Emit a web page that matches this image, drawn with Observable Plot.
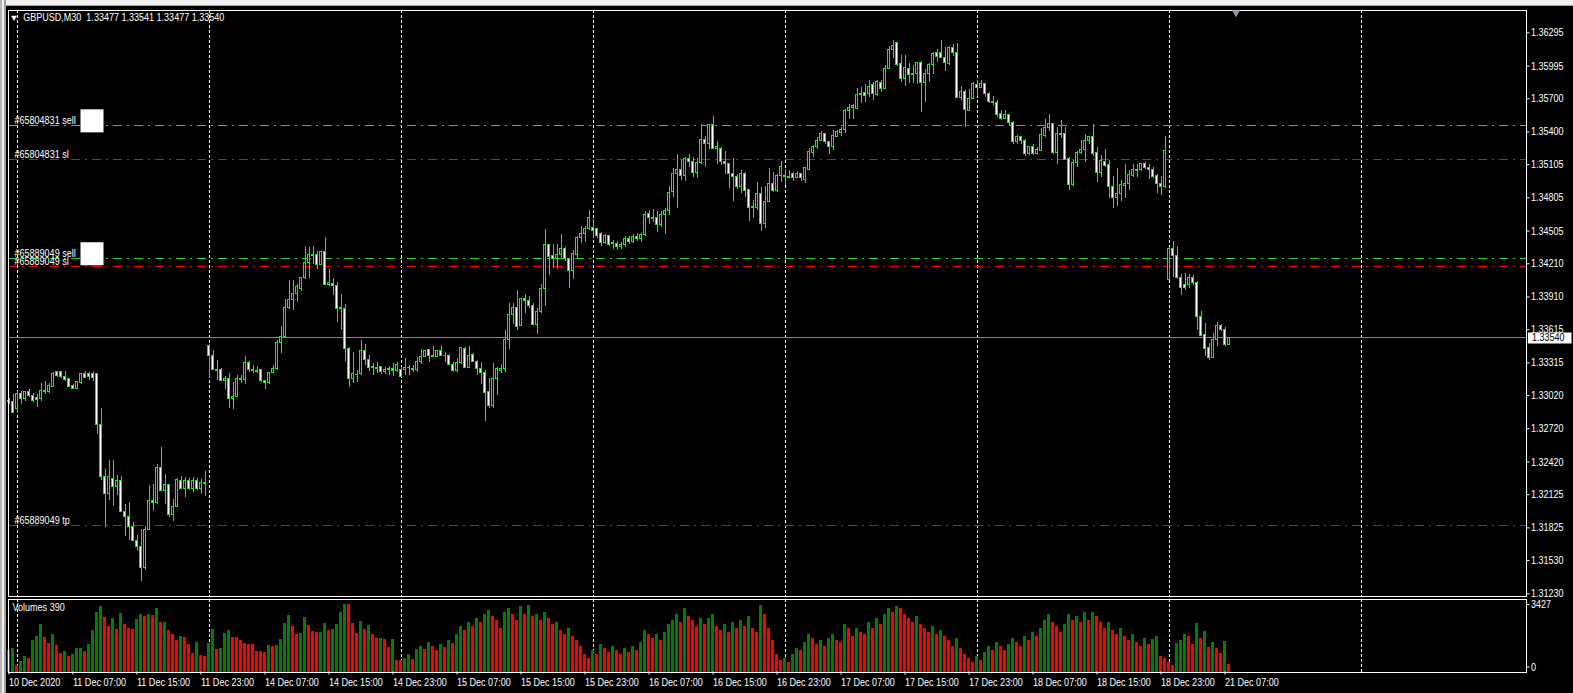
<!DOCTYPE html>
<html>
<head>
<meta charset="utf-8">
<script src="https://cdn.jsdelivr.net/npm/d3@7"></script>
<script src="https://cdn.jsdelivr.net/npm/@observablehq/plot@0.6"></script>
<style>
  html, body { margin:0; padding:0; background:#000; }
  #wrap { position:relative; width:1573px; height:693px; background:#000; overflow:hidden; }
  #wrap svg { position:absolute; left:0; top:0; }
  #wrap svg text { white-space: pre; }
  #toolbar { position:absolute; z-index:2; left:0; top:0; width:1573px; height:5px; background:#f0f0f0; border-bottom:1px solid #a0a0a0; }
  #leftframe { position:absolute; z-index:2; left:0; top:0; width:6px; height:693px; background:linear-gradient(to right,#b4b4b4 0 2px,#f0f0f0 2px 4px,#a0a0a0 4px 6px); }
</style>
</head>
<body>
<div id="wrap"><div id="toolbar"></div><div id="leftframe"></div></div>
<script>
const symbolName = "GBPUSD,M30";

const open = [
1.3297,1.3296,1.3290,1.3303,1.3299,1.3305,1.3302,1.3300,1.3299,1.3306,
1.3305,1.3310,1.3323,1.3323,1.3319,1.3317,1.3311,1.3308,1.3313,1.3321,
1.3321,1.3321,1.3321,1.3275,1.3228,1.3213,1.3227,1.3219,1.3225,1.3197,
1.3192,1.3183,1.3171,1.3165,1.3146,1.3181,1.3207,1.3205,1.3237,1.3216,
1.3221,1.3194,1.3201,1.3225,1.3218,1.3225,1.3218,1.3225,1.3218,1.3223,
1.3347,1.3338,1.3325,1.3325,1.3315,1.3317,1.3299,1.3301,1.3317,1.3316,
1.3331,1.3325,1.3324,1.3325,1.3315,1.3313,1.3322,1.3326,1.3349,1.3355,
1.3381,1.3388,1.3394,1.3398,1.3408,1.3422,1.3429,1.3429,1.3420,1.3432,
1.3402,1.3403,1.3401,1.3380,1.3380,1.3344,1.3317,1.3321,1.3321,1.3342,
1.3334,1.3328,1.3327,1.3328,1.3323,1.3325,1.3326,1.3324,1.3325,1.3325,
1.3327,1.3326,1.3325,1.3332,1.3337,1.3343,1.3338,1.3337,1.3342,1.3338,
1.3338,1.3330,1.3324,1.3331,1.3344,1.3327,1.3339,1.3332,1.3326,1.3322,
1.3305,1.3293,1.3317,1.3324,1.3326,1.3352,1.3375,1.3381,1.3365,1.3389,
1.3387,1.3383,1.3366,1.3377,1.3398,1.3438,1.3428,1.3425,1.3429,1.3434,
1.3425,1.3414,1.3429,1.3444,1.3448,1.3452,1.3453,1.3452,1.3448,1.3440,
1.3446,1.3439,1.3439,1.3436,1.3438,1.3443,1.3441,1.3445,1.3443,1.3447,
1.3466,1.3462,1.3462,1.3456,1.3465,1.3469,1.3486,1.3502,1.3506,1.3500,
1.3516,1.3513,1.3503,1.3512,1.3533,1.3529,1.3546,1.3525,1.3525,1.3513,
1.3511,1.3502,1.3499,1.3490,1.3502,1.3488,1.3471,1.3471,1.3484,1.3457,
1.3477,1.3493,1.3487,1.3500,1.3500,1.3499,1.3502,1.3498,1.3502,1.3497,
1.3506,1.3521,1.3526,1.3532,1.3538,1.3531,1.3526,1.3535,1.3539,1.3542,
1.3559,1.3562,1.3561,1.3573,1.3575,1.3574,1.3582,1.3573,1.3584,1.3579,
1.3597,1.3614,1.3620,1.3601,1.3588,1.3597,1.3592,1.3592,1.3602,1.3584,
1.3592,1.3600,1.3611,1.3611,1.3607,1.3601,1.3616,1.3611,1.3571,1.3576,
1.3559,1.3570,1.3582,1.3580,1.3583,1.3574,1.3567,1.3566,1.3556,1.3552,
1.3555,1.3548,1.3531,1.3535,1.3532,1.3520,1.3526,1.3520,1.3523,1.3536,
1.3544,1.3547,1.3521,1.3538,1.3538,1.3516,1.3492,1.3512,1.3521,1.3524,
1.3532,1.3535,1.3521,1.3503,1.3513,1.3510,1.3490,1.3480,1.3484,1.3491,
1.3493,1.3500,1.3506,1.3506,1.3511,1.3507,1.3506,1.3500,1.3493,1.3490,
1.3406,1.3434,1.3428,1.3408,1.3402,1.3402,1.3408,1.3404,1.3373,1.3357,
1.3345,1.3336,1.3352,1.3365,1.3361,1.33477
];
const high = [
1.3299,1.3303,1.3306,1.3306,1.3306,1.3307,1.3304,1.3303,1.3313,1.3315,
1.3313,1.3323,1.3324,1.3324,1.3324,1.3317,1.3312,1.3314,1.3322,1.3324,
1.3323,1.3324,1.3321,1.3290,1.3235,1.3243,1.3243,1.3230,1.3229,1.3204,
1.3205,1.3187,1.3176,1.3181,1.3184,1.3221,1.3222,1.3240,1.3255,1.3231,
1.3222,1.3208,1.3227,1.3229,1.3228,1.3227,1.3228,1.3227,1.3226,1.3233,
1.3348,1.3343,1.3334,1.3326,1.3319,1.3322,1.3314,1.3320,1.3320,1.3337,
1.3333,1.3329,1.3328,1.3325,1.3316,1.3323,1.3329,1.3352,1.3364,1.3389,
1.3406,1.3406,1.3402,1.3409,1.3437,1.3436,1.3437,1.3432,1.3432,1.3445,
1.3416,1.3408,1.3404,1.3393,1.3384,1.3345,1.3341,1.3325,1.3352,1.3348,
1.3338,1.3331,1.3332,1.3328,1.3327,1.3328,1.3331,1.3332,1.3327,1.3335,
1.3329,1.3329,1.3336,1.3344,1.3343,1.3344,1.3346,1.3343,1.3347,1.3341,
1.3339,1.3332,1.3335,1.3345,1.3345,1.3346,1.3340,1.3334,1.3332,1.3325,
1.3317,1.3331,1.3327,1.3330,1.3361,1.3385,1.3385,1.3397,1.3390,1.3393,
1.3391,1.3385,1.3381,1.3402,1.3452,1.3438,1.3438,1.3438,1.3447,1.3436,
1.3426,1.3433,1.3446,1.3455,1.3455,1.3469,1.3461,1.3452,1.3449,1.3447,
1.3446,1.3442,1.3441,1.3440,1.3446,1.3446,1.3447,1.3448,1.3448,1.3468,
1.3469,1.3470,1.3468,1.3468,1.3471,1.3491,1.3507,1.3520,1.3514,1.3517,
1.3520,1.3517,1.3516,1.3547,1.3536,1.3547,1.3554,1.3531,1.3526,1.3522,
1.3511,1.3516,1.3502,1.3505,1.3503,1.3488,1.3478,1.3494,1.3490,1.3491,
1.3507,1.3503,1.3502,1.3513,1.3506,1.3505,1.3503,1.3504,1.3502,1.3508,
1.3525,1.3528,1.3535,1.3540,1.3539,1.3531,1.3541,1.3541,1.3544,1.3560,
1.3565,1.3565,1.3579,1.3580,1.3583,1.3586,1.3585,1.3586,1.3586,1.3600,
1.3617,1.3623,1.3620,1.3609,1.3609,1.3602,1.3600,1.3603,1.3604,1.3596,
1.3602,1.3612,1.3614,1.3623,1.3616,1.3617,1.3619,1.3620,1.3581,1.3577,
1.3578,1.3585,1.3586,1.3586,1.3583,1.3576,1.3572,1.3568,1.3559,1.3559,
1.3555,1.3549,1.3537,1.3536,1.3533,1.3527,1.3529,1.3526,1.3543,1.3551,
1.3556,1.3548,1.3544,1.3550,1.3544,1.3517,1.3514,1.3522,1.3532,1.3538,
1.3536,1.3547,1.3526,1.3519,1.3524,1.3514,1.3500,1.3507,1.3496,1.3511,
1.3505,1.3511,1.3511,1.3511,1.3512,1.3511,1.3508,1.3502,1.3500,1.3536,
1.3436,1.3441,1.3437,1.3411,1.3412,1.3411,1.3410,1.3405,1.3378,1.3367,
1.3349,1.3358,1.3368,1.3366,1.3363,1.33541
];
const low = [
1.3294,1.3286,1.3286,1.3294,1.3297,1.3300,1.3296,1.3291,1.3297,1.3303,
1.3304,1.3309,1.3318,1.3317,1.3315,1.3309,1.3307,1.3307,1.3312,1.3318,
1.3316,1.3315,1.3267,1.3225,1.3183,1.3207,1.3202,1.3212,1.3197,1.3175,
1.3171,1.3170,1.3161,1.3134,1.3144,1.3180,1.3197,1.3204,1.3215,1.3204,
1.3192,1.3188,1.3201,1.3218,1.3210,1.3216,1.3214,1.3216,1.3213,1.3211,
1.3317,1.3325,1.3316,1.3315,1.3307,1.3290,1.3289,1.3300,1.3313,1.3312,
1.3323,1.3322,1.3322,1.3314,1.3307,1.3312,1.3322,1.3325,1.3340,1.3354,
1.3380,1.3379,1.3386,1.3396,1.3407,1.3408,1.3420,1.3416,1.3419,1.3401,
1.3400,1.3392,1.3368,1.3361,1.3333,1.3309,1.3313,1.3314,1.3320,1.3329,
1.3324,1.3320,1.3322,1.3321,1.3321,1.3320,1.3319,1.3323,1.3318,1.3320,
1.3320,1.3323,1.3323,1.3330,1.3336,1.3332,1.3336,1.3336,1.3337,1.3332,
1.3329,1.3323,1.3323,1.3330,1.3327,1.3327,1.3332,1.3320,1.3312,1.3279,
1.3290,1.3290,1.3302,1.3322,1.3323,1.3344,1.3366,1.3361,1.3364,1.3376,
1.3381,1.3365,1.3357,1.3376,1.3382,1.3410,1.3417,1.3416,1.3425,1.3423,
1.3399,1.3407,1.3425,1.3439,1.3440,1.3451,1.3444,1.3444,1.3437,1.3438,
1.3437,1.3434,1.3433,1.3434,1.3436,1.3438,1.3439,1.3441,1.3440,1.3446,
1.3456,1.3458,1.3449,1.3454,1.3447,1.3465,1.3481,1.3471,1.3496,1.3495,
1.3508,1.3499,1.3498,1.3511,1.3508,1.3524,1.3524,1.3511,1.3510,1.3502,
1.3489,1.3477,1.3488,1.3484,1.3481,1.3459,1.3462,1.3469,1.3450,1.3453,
1.3476,1.3485,1.3485,1.3494,1.3492,1.3498,1.3495,1.3498,1.3495,1.3493,
1.3505,1.3517,1.3524,1.3531,1.3529,1.3520,1.3523,1.3535,1.3536,1.3539,
1.3551,1.3551,1.3560,1.3566,1.3567,1.3571,1.3568,1.3572,1.3576,1.3578,
1.3596,1.3606,1.3599,1.3585,1.3581,1.3584,1.3584,1.3583,1.3558,1.3567,
1.3585,1.3592,1.3603,1.3606,1.3595,1.3600,1.3608,1.3571,1.3568,1.3544,
1.3559,1.3569,1.3572,1.3580,1.3571,1.3566,1.3564,1.3553,1.3550,1.3551,
1.3546,1.3529,1.3529,1.3529,1.3518,1.3519,1.3519,1.3520,1.3523,1.3535,
1.3540,1.3520,1.3511,1.3534,1.3514,1.3487,1.3491,1.3508,1.3520,1.3512,
1.3529,1.3518,1.3494,1.3499,1.3508,1.3480,1.3471,1.3473,1.3477,1.3480,
1.3487,1.3499,1.3499,1.3504,1.3506,1.3497,1.3498,1.3484,1.3483,1.3489,
1.3406,1.3409,1.3407,1.3392,1.3397,1.3399,1.3401,1.3361,1.3355,1.3337,
1.3334,1.3335,1.3346,1.3360,1.3346,1.33477
];
const close = [
1.3296,1.3286,1.3303,1.3299,1.3305,1.3302,1.3297,1.3298,1.3306,1.3305,
1.3311,1.3321,1.3320,1.3319,1.3316,1.3310,1.3308,1.3314,1.3321,1.3318,
1.3319,1.3318,1.3275,1.3228,1.3213,1.3228,1.3219,1.3225,1.3197,1.3192,
1.3183,1.3171,1.3165,1.3146,1.3181,1.3207,1.3205,1.3237,1.3216,1.3221,
1.3194,1.3201,1.3226,1.3218,1.3225,1.3218,1.3225,1.3218,1.3223,1.3222,
1.3338,1.3325,1.3324,1.3315,1.3317,1.3299,1.3301,1.3317,1.3316,1.3331,
1.3325,1.3324,1.3323,1.3315,1.3313,1.3322,1.3326,1.3349,1.3355,1.3381,
1.3388,1.3394,1.3400,1.3408,1.3422,1.3429,1.3428,1.3420,1.3432,1.3402,
1.3404,1.3401,1.3380,1.3381,1.3344,1.3317,1.3321,1.3321,1.3342,1.3334,
1.3327,1.3327,1.3326,1.3323,1.3325,1.3326,1.3324,1.3330,1.3319,1.3327,
1.3327,1.3325,1.3332,1.3337,1.3342,1.3338,1.3337,1.3342,1.3338,1.3338,
1.3330,1.3324,1.3331,1.3345,1.3327,1.3338,1.3332,1.3326,1.3322,1.3304,
1.3293,1.3317,1.3326,1.3326,1.3352,1.3375,1.3381,1.3364,1.3389,1.3387,
1.3383,1.3366,1.3377,1.3398,1.3438,1.3427,1.3425,1.3429,1.3434,1.3425,
1.3414,1.3430,1.3444,1.3448,1.3452,1.3462,1.3451,1.3446,1.3440,1.3446,
1.3438,1.3440,1.3436,1.3438,1.3443,1.3441,1.3445,1.3443,1.3447,1.3465,
1.3462,1.3461,1.3456,1.3465,1.3469,1.3485,1.3502,1.3506,1.3500,1.3516,
1.3513,1.3503,1.3512,1.3533,1.3529,1.3546,1.3525,1.3526,1.3513,1.3511,
1.3502,1.3499,1.3490,1.3502,1.3487,1.3471,1.3472,1.3484,1.3457,1.3477,
1.3493,1.3487,1.3500,1.3508,1.3499,1.3498,1.3498,1.3502,1.3498,1.3507,
1.3522,1.3526,1.3532,1.3538,1.3531,1.3526,1.3536,1.3540,1.3542,1.3559,
1.3562,1.3563,1.3573,1.3574,1.3572,1.3581,1.3574,1.3585,1.3579,1.3597,
1.3614,1.3618,1.3600,1.3588,1.3598,1.3591,1.3591,1.3602,1.3584,1.3592,
1.3600,1.3610,1.3608,1.3607,1.3602,1.3616,1.3611,1.3571,1.3576,1.3560,
1.3570,1.3583,1.3580,1.3583,1.3574,1.3567,1.3566,1.3555,1.3552,1.3555,
1.3548,1.3531,1.3535,1.3532,1.3520,1.3526,1.3520,1.3524,1.3537,1.3544,
1.3547,1.3521,1.3538,1.3537,1.3515,1.3492,1.3512,1.3521,1.3524,1.3532,
1.3535,1.3520,1.3503,1.3514,1.3509,1.3490,1.3480,1.3484,1.3492,1.3493,
1.3501,1.3506,1.3505,1.3511,1.3507,1.3506,1.3499,1.3493,1.3490,1.3523,
1.3434,1.3428,1.3408,1.3399,1.3399,1.3408,1.3404,1.3373,1.3356,1.3344,
1.3336,1.3352,1.3365,1.3361,1.3348,1.33540
];
const volume = [
1074,1193,307,528,767,682,1620,1807,2404,1739,
1449,1910,1330,938,1023,767,887,1176,1190,1023,
1381,2097,3018,3325,2779,2319,2711,2148,2950,2404,
2217,2182,2643,2916,2813,2916,2864,3222,2506,2523,
2097,1910,1620,1790,1756,1415,938,1483,818,767,
1466,2182,1142,1176,1961,2131,1739,1739,1620,1449,
1415,1381,1023,1023,972,1330,1279,1330,1671,2438,
2864,2302,1893,1978,2745,2336,2046,2012,2029,2472,
2131,2148,2404,3035,3427,3410,2438,1961,2558,2165,
2370,1927,1688,1690,1670,1228,1671,597,560,700,
900,650,1150,1300,1150,1500,1300,1100,1400,1250,
1600,1450,1900,2300,2100,2500,2300,2700,2500,2900,
3100,2800,2600,2200,3000,3200,2900,2600,3300,2900,
3400,2800,2900,2600,3000,2700,2400,2500,2100,1900,
2200,1800,1600,1300,900,700,1100,900,1400,1200,
1000,1300,1100,900,1200,1000,1300,1100,1500,2100,
1900,1700,1900,1600,2000,2400,2600,2900,2500,3200,
2800,2600,2300,2700,2400,2700,2900,2300,2100,2400,
2000,2500,2200,2600,2300,2800,2200,2000,3400,2900,
2200,1600,900,600,700,500,900,1200,1100,1500,
1900,1700,1400,1600,1300,1700,1900,1600,1500,2400,
2200,1800,2200,2000,1900,2500,2200,2700,2400,2900,
3200,3000,3300,3200,2900,2700,2500,2800,2400,2200,
2000,2300,1900,2100,1800,1600,1300,1700,1200,900,
700,500,800,600,1000,1300,1100,1500,1300,1100,
1400,1700,1500,1300,1800,1600,2000,1800,2200,2600,
2900,2500,2300,2000,2400,2900,2600,2800,2500,3000,
2600,3000,2800,2500,2200,2500,2100,1900,2200,1800,
1600,1900,1500,1300,1700,1400,1637,1790,767,665,
460,307,1432,1586,1893,1790,1381,2455,1688,2046,
1228,1483,1176,921,1535,390
];

const priceTicks = [1.36295,1.35995,1.35700,1.35400,1.35105,1.34805,1.34505,1.34210,1.33910,1.33615,1.33315,1.33020,1.32720,1.32420,1.32125,1.31825,1.31530,1.31230];
const timeTickBars = [0,16,32,48,64,80,96,112,128,144,160,176,192,208,224,240,256,272,288,304];
const timeTickLabels = ["10 Dec 2020","11 Dec 07:00","11 Dec 15:00","11 Dec 23:00","14 Dec 07:00","14 Dec 15:00","14 Dec 23:00","15 Dec 07:00","15 Dec 15:00","15 Dec 23:00","16 Dec 07:00","16 Dec 15:00","16 Dec 23:00","17 Dec 07:00","17 Dec 15:00","17 Dec 23:00","18 Dec 07:00","18 Dec 15:00","18 Dec 23:00","21 Dec 07:00"];
const daySeparatorBars = [2,50,98,146,194,242,290,338];
const orderLabels = ["#65804831 sell","#65804831 sl","#65889049 sell","#65889049 sl","#65889049 tp"];
const orderPrices = [1.35455,1.35148,1.34255,1.34182,1.31845];
const orderKinds = ["sell","sl","sell","sl","tp"];

// ---- build ----
const lastBar = close.length - 1;
const bars = close.map((c, i) => ({i, o: open[i], h: high[i], l: low[i], c, v: volume[i], up: i > 0 && volume[i] > volume[i - 1]}));
const orders = orderLabels.map((label, k) => ({label, price: orderPrices[k], kind: orderKinds[k]}));
const labelByBar = new Map(timeTickBars.map((b, k) => [b, timeTickLabels[k]]));
const last = close[lastBar];
const header = `${symbolName}  ${open[lastBar].toFixed(5)} ${high[lastBar].toFixed(5)} ${low[lastBar].toFixed(5)} ${close[lastBar].toFixed(5)}`;

const W = 1573, H = 693;
const FONT = '"Liberation Sans","Arial",sans-serif';
const xDomain = [-0.25, 379.25];
const LIME = "#00ff00";
const style = {background: "transparent", color: "#fff", fontFamily: FONT, fontSize: "11px", overflow: "visible"};

const mainChart = Plot.plot({
  width: W, height: H,
  marginLeft: 7.5, marginRight: 47.5, marginTop: 9.5, marginBottom: 97.5,
  style,
  x: {domain: xDomain, axis: null},
  y: {domain: [1.31210, 1.36501]},
  marks: [
    Plot.ruleX(daySeparatorBars, {stroke: "#fff", strokeDasharray: "3,2", shapeRendering: "crispEdges"}),
    Plot.ruleY(orders, {y: "price", stroke: d => d.kind === "sell" ? "#32cd32" : "#ff0000", strokeDasharray: "9,5,2,5", shapeRendering: "crispEdges"}),
    Plot.ruleY([last], {stroke: "#778899", shapeRendering: "crispEdges"}),
    Plot.ruleX(bars, {x: "i", y1: "l", y2: "h", stroke: LIME, shapeRendering: "crispEdges"}),
    Plot.rect(bars.filter(d => d.o !== d.c), {x1: d => d.i - 0.25, x2: d => d.i + 0.25, y1: "o", y2: "c",
      fill: d => d.c > d.o ? "#000" : "#fff", stroke: LIME, shapeRendering: "crispEdges"}),
    Plot.ruleY(bars.filter(d => d.o === d.c), {y: "c", x1: d => d.i - 0.375, x2: d => d.i + 0.375, stroke: LIME, shapeRendering: "crispEdges"}),
    Plot.frame({stroke: "#fff", shapeRendering: "crispEdges"}),
    Plot.axisY(priceTicks, {anchor: "right", tickSize: 3, tickPadding: 2, tickFormat: d => d.toFixed(5), color: "#fff", label: null}),
    Plot.ruleY([last], {x1: () => xDomain[1] + 0.6, x2: () => xDomain[1] + 11.5, stroke: "#fff", strokeWidth: 11}),
    Plot.text([last], {x: () => xDomain[1], y: d => d, text: d => d.toFixed(5), textAnchor: "start", dx: 6, fill: "#000"}),
    Plot.text(orders, {x: () => xDomain[0], y: "price", text: "label", textAnchor: "start", dx: 6.5, dy: -5.5, fill: "#fff"}),
    Plot.dot(orders.filter(d => d.kind === "sell"), {x: () => xDomain[0], y: "price", dx: 84, dy: -5, symbol: "square", r: 13, fill: "#fff"}),
    Plot.dot([0], {frameAnchor: "top-left", dx: 6, dy: 7.5, symbol: "triangle", rotate: 180, r: 2.2, fill: "#fff"}),
    Plot.text([header], {frameAnchor: "top-left", dx: 15.2, dy: 7.5, textAnchor: "start", lineAnchor: "middle", fill: "#fff"}),
    Plot.dot([lastBar + 1.75], {x: d => d, frameAnchor: "top", dy: 2.5, symbol: "triangle", rotate: 180, r: 3, fill: "#8796a8"})
  ]
});

const volChart = Plot.plot({
  width: W, height: H,
  marginLeft: 7.5, marginRight: 47.5, marginTop: 598.5, marginBottom: 21.5,
  style,
  x: {domain: xDomain},
  y: {domain: [0, 3706]},
  marks: [
    Plot.ruleX(daySeparatorBars, {stroke: "#fff", strokeDasharray: "3,2", shapeRendering: "crispEdges"}),
    Plot.rect(bars, {x1: d => d.i - 0.375, x2: d => d.i + 0.375, y1: 0, y2: "v",
      fill: d => d.up ? "#008000" : "#ff0000", shapeRendering: "crispEdges"}),
    Plot.frame({stroke: "#fff", shapeRendering: "crispEdges"}),
    Plot.text([`Volumes ${volume[lastBar]}`], {frameAnchor: "top-left", dx: 4.5, dy: 8.5, textAnchor: "start", lineAnchor: "middle", fill: "#fff"}),
    Plot.axisY([d3.max(volume)], {anchor: "right", tickSize: 3, tickPadding: 2, color: "#fff", label: null, tickFormat: d => String(d)}),
    Plot.axisY([0], {anchor: "right", tickSize: 3, tickPadding: 2, color: "#fff", label: null, tickFormat: d => String(d), dy: -5}),
    Plot.axisX(timeTickBars, {anchor: "bottom", tickSize: 3, tickPadding: 3, tickFormat: d => labelByBar.get(d), textAnchor: "start", color: "#fff", label: null})
  ]
});

const wrap = document.getElementById("wrap");
wrap.append(mainChart, volChart);

// MT4 uses a narrow UI font: condense every label horizontally
for (const t of wrap.querySelectorAll("svg text")) {
  const len = t.getComputedTextLength();
  if (len > 0) {
    t.setAttribute("textLength", (len * 0.82).toFixed(1));
    t.setAttribute("lengthAdjust", "spacingAndGlyphs");
  }
}
</script>
</body>
</html>
